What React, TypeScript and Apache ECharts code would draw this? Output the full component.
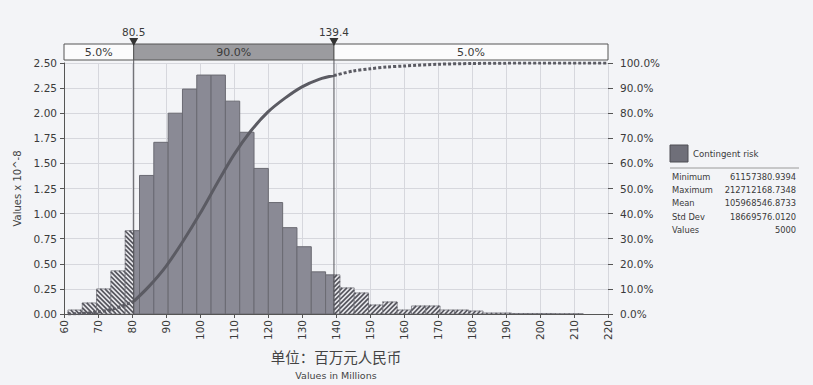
import { useEffect, useRef } from "react";
import * as echarts from "echarts";

// ---- data ----
const binEdges = [
  61.16, 65.37, 69.58, 73.79, 78.0, 82.21, 86.42, 90.63, 94.84, 99.05, 103.26, 107.47,
  111.68, 115.89, 120.1, 124.31, 128.52, 132.73, 136.94, 141.15, 145.36, 149.57, 153.78,
  157.99, 162.2, 166.41, 170.62, 174.83, 179.04, 183.25, 187.46, 191.67, 195.88, 200.09,
  204.3, 208.51, 212.71,
];
const density = [
  0.04, 0.11, 0.25, 0.43, 0.83, 1.38, 1.71, 2.0, 2.24, 2.38, 2.38, 2.12, 1.81, 1.45, 1.11,
  0.86, 0.67, 0.42, 0.39, 0.26, 0.21, 0.09, 0.12, 0.04, 0.08, 0.08, 0.04, 0.04, 0.03, 0.01,
  0.01, 0.005, 0.005, 0.005, 0.003, 0.003,
];
const lowerCut = 80.5;
const upperCut = 139.4;
const bandLabels = ["5.0%", "90.0%", "5.0%"];
const cdfX = [61.2, 65, 70, 75, 80.5, 85, 90, 95, 100, 105, 110, 115, 120, 125, 130, 135, 139.4, 145, 150, 155, 160, 170, 180, 190, 200, 212.7, 220];
const cdfPct = [0, 0.2, 0.8, 2.2, 5, 11, 19, 29, 40, 52, 63.5, 73, 80.5, 86, 90.5, 93.5, 95, 96.8, 97.7, 98.4, 98.8, 99.5, 99.8, 99.95, 100, 100, 100];
const seriesName = "Contingent risk";
const statLabels = ["Minimum", "Maximum", "Mean", "Std Dev", "Values"];
const statValues = ["61157380.9394", "212712168.7348", "105968546.8733", "18669576.0120", "5000"];
const xAxisTitleCn = "单位：百万元人民币";
const xAxisTitleEn = "Values in Millions";
const yAxisTitle = "Values x 10^-8";

const FONT = "DejaVu Sans";
const TEXT = "#3a3a3a";

export default function App() {
  const ref = useRef<HTMLDivElement>(null);
  useEffect(() => {
    if (!ref.current) return;
    const chart = echarts.init(ref.current, undefined, { renderer: "svg" });

    // split bins into solid / hatched pieces at the cut points
    const pieces: number[][] = [];
    for (let i = 0; i < density.length; i++) {
      const a = binEdges[i];
      const b = binEdges[i + 1];
      const v = density[i];
      const cuts = [a, b];
      if (lowerCut > a && lowerCut < b) cuts.splice(1, 0, lowerCut);
      if (upperCut > a && upperCut < b) cuts.splice(cuts.length - 1, 0, upperCut);
      for (let k = 0; k < cuts.length - 1; k++) {
        const x0 = cuts[k];
        const x1 = cuts[k + 1];
        const mid = (x0 + x1) / 2;
        const kind = mid < lowerCut ? 1 : mid > upperCut ? 2 : 0;
        pieces.push([x0, x1, v, kind]);
      }
    }

    const cdf = cdfX.map((x, i) => [x, cdfPct[i]]);
    const cdfLeft = cdf.filter((p) => p[0] <= lowerCut);
    const cdfMid = cdf.filter((p) => p[0] >= lowerCut && p[0] <= upperCut);
    const cdfRight = cdf.filter((p) => p[0] >= upperCut);

    const barRender = (_params: any, api: any) => {
      const x0 = api.value(0);
      const x1 = api.value(1);
      const v = api.value(2);
      const kind = api.value(3);
      const p0 = api.coord([x0, v]);
      const p1 = api.coord([x1, 0]);
      const rx = p0[0];
      const ry = p0[1];
      const rw = p1[0] - p0[0];
      const rh = p1[1] - p0[1];
      if (kind === 0) {
        return {
          type: "rect",
          shape: { x: rx, y: ry, width: rw, height: rh },
          style: { fill: "#8a8a95", stroke: "#6a6a72", lineWidth: 1 },
        };
      }
      const children: any[] = [
        {
          type: "rect",
          shape: { x: rx, y: ry, width: rw, height: rh },
          style: { fill: "#ebebef", stroke: "#77777f", lineWidth: 0.8 },
        },
      ];
      const step = 4.6;
      const bx = rx + rw;
      const by = ry + rh;
      if (kind === 1) {
        const cMin = ry - bx;
        const cMax = by - rx;
        for (let c = Math.ceil(cMin / step) * step; c <= cMax; c += step) {
          const xa = Math.max(rx, ry - c);
          const xb = Math.min(bx, by - c);
          if (xb - xa > 0.3)
            children.push({
              type: "line",
              shape: { x1: xa, y1: xa + c, x2: xb, y2: xb + c },
              style: { stroke: "#55555d", lineWidth: 1.7 },
            });
        }
      } else {
        const cMin = rx + ry;
        const cMax = bx + by;
        for (let c = Math.ceil(cMin / step) * step; c <= cMax; c += step) {
          const xa = Math.max(rx, c - by);
          const xb = Math.min(bx, c - ry);
          if (xb - xa > 0.3)
            children.push({
              type: "line",
              shape: { x1: xa, y1: c - xa, x2: xb, y2: c - xb },
              style: { stroke: "#55555d", lineWidth: 1.7 },
            });
        }
      }
      return { type: "group", children };
    };

    const bandRender = (params: any, api: any) => {
      const cs = params.coordSys;
      const top = cs.y - 19;
      const h = 16;
      const left = cs.x;
      const right = cs.x + cs.width;
      const bottom = cs.y + cs.height;
      const xl = api.coord([lowerCut, 0])[0];
      const xu = api.coord([upperCut, 0])[0];
      const segs = [
        [left, xl, "#fbfbfc"],
        [xl, xu, "#9b9b9f"],
        [xu, right, "#fbfbfc"],
      ];
      const children: any[] = [];
      segs.forEach((s, i) => {
        const a = s[0] as number;
        const b = s[1] as number;
        children.push({
          type: "rect",
          shape: { x: a, y: top, width: b - a, height: h },
          style: { fill: s[2] as string, stroke: "#555", lineWidth: 1 },
        });
        children.push({
          type: "text",
          style: {
            text: bandLabels[i],
            x: (a + b) / 2,
            y: top + h / 2 + 0.5,
            align: "center",
            verticalAlign: "middle",
            fill: TEXT,
            fontSize: 11,
            fontFamily: FONT,
          },
        });
      });
      [
        [xl, lowerCut],
        [xu, upperCut],
      ].forEach(([px, val]) => {
        children.push({
          type: "line",
          shape: { x1: px, y1: top + h, x2: px, y2: bottom },
          style: { stroke: "#55555a", lineWidth: 1 },
        });
        children.push({
          type: "polygon",
          shape: {
            points: [
              [px - 4.5, top - 6],
              [px + 4.5, top - 6],
              [px, top + 2],
            ],
          },
          style: { fill: "#333" },
        });
        children.push({
          type: "text",
          style: {
            text: val.toFixed(1),
            x: px,
            y: top - 12,
            align: "center",
            verticalAlign: "middle",
            fill: TEXT,
            fontSize: 10.5,
            fontFamily: FONT,
          },
        });
      });
      return { type: "group", children };
    };

    const legendX = 670;
    const graphic: any[] = [
      {
        type: "rect",
        shape: { x: legendX, y: 145, width: 18, height: 17 },
        style: { fill: "#6f6f79", stroke: "#4e4e55", lineWidth: 1 },
      },
      {
        type: "text",
        style: {
          text: seriesName,
          x: legendX + 23,
          y: 154,
          verticalAlign: "middle",
          fill: TEXT,
          fontSize: 8.6,
          fontFamily: FONT,
        },
      },
      {
        type: "line",
        shape: { x1: legendX, y1: 168, x2: 799, y2: 168 },
        style: { stroke: "#9a9a9a", lineWidth: 1 },
      },
    ];
    statLabels.forEach((lab, i) => {
      const y = 176.5 + i * 13.4;
      graphic.push({
        type: "text",
        style: { text: lab, x: legendX + 2, y, verticalAlign: "middle", fill: TEXT, fontSize: 8.3, fontFamily: FONT },
      });
      graphic.push({
        type: "text",
        style: {
          text: statValues[i],
          x: 796,
          y,
          align: "right",
          verticalAlign: "middle",
          fill: TEXT,
          fontSize: 8.3,
          fontFamily: FONT,
        },
      });
    });

    chart.setOption({
      animation: false,
      backgroundColor: "#f3f4f7",
      textStyle: { fontFamily: FONT },
      grid: { left: 64, right: 205, top: 63, bottom: 69 },
      xAxis: {
        type: "value",
        min: 60,
        max: 220,
        interval: 10,
        axisLine: { show: true, lineStyle: { color: "#555", width: 1 } },
        axisTick: { show: true, length: 4, lineStyle: { color: "#555" } },
        axisLabel: { rotate: 90, fontSize: 10.5, color: TEXT, margin: 6, fontFamily: FONT },
        splitLine: { show: true, lineStyle: { color: "#d6d7dd", width: 1 } },
        name: `{a|${xAxisTitleCn}}\n{b|${xAxisTitleEn}}`,
        nameLocation: "middle",
        nameGap: 32,
        nameTextStyle: {
          rich: {
            a: { fontSize: 14.5, color: "#444", fontFamily: "Noto Sans CJK SC", lineHeight: 20 },
            b: { fontSize: 9.5, color: "#444", fontFamily: FONT, lineHeight: 18 },
          },
        },
      },
      yAxis: [
        {
          type: "value",
          min: 0,
          max: 2.5,
          interval: 0.25,
          axisLine: { show: true, lineStyle: { color: "#555" } },
          axisTick: { show: true, length: 4, lineStyle: { color: "#555" } },
          axisLabel: {
            fontSize: 10.5,
            color: TEXT,
            margin: 7,
            fontFamily: FONT,
            formatter: (v: number) => v.toFixed(2),
          },
          splitLine: { show: true, lineStyle: { color: "#d6d7dd", width: 1 } },
          name: yAxisTitle,
          nameLocation: "middle",
          nameGap: 33,
          nameRotate: 90,
          nameTextStyle: { fontSize: 10, color: "#444", fontFamily: FONT },
        },
        {
          type: "value",
          min: 0,
          max: 100,
          interval: 10,
          position: "right",
          axisLine: { show: false },
          axisTick: { show: true, length: 5, lineStyle: { color: "#555" } },
          axisLabel: {
            fontSize: 10.5,
            color: TEXT,
            margin: 12,
            fontFamily: FONT,
            formatter: (v: number) => v.toFixed(1) + "%",
          },
          splitLine: { show: false },
        },
      ],
      series: [
        {
          type: "custom",
          name: seriesName,
          renderItem: barRender,
          data: pieces,
          encode: { x: [0, 1], y: 2 },
          clip: true,
          z: 2,
        },
        {
          type: "line",
          yAxisIndex: 1,
          data: cdfLeft,
          showSymbol: false,
          smooth: 0.3,
          lineStyle: { color: "#5b5b63", width: 3, type: [3, 2] },
          z: 3,
        },
        {
          type: "line",
          yAxisIndex: 1,
          data: cdfMid,
          showSymbol: false,
          smooth: 0.3,
          lineStyle: { color: "#5b5b63", width: 3 },
          z: 3,
        },
        {
          type: "line",
          yAxisIndex: 1,
          data: cdfRight,
          showSymbol: false,
          smooth: 0.3,
          lineStyle: { color: "#5b5b63", width: 3, type: [3, 2] },
          z: 3,
        },
        {
          type: "custom",
          renderItem: bandRender,
          data: [[lowerCut, upperCut]],
          encode: { x: [0, 1] },
          clip: false,
          silent: true,
          z: 4,
        },
      ],
      graphic,
    });
    return () => chart.dispose();
  }, []);
  return (
    <div
      ref={ref}
      style={{ position: "absolute", left: 0, top: 0, width: 813, height: 385 }}
    />
  );
}
